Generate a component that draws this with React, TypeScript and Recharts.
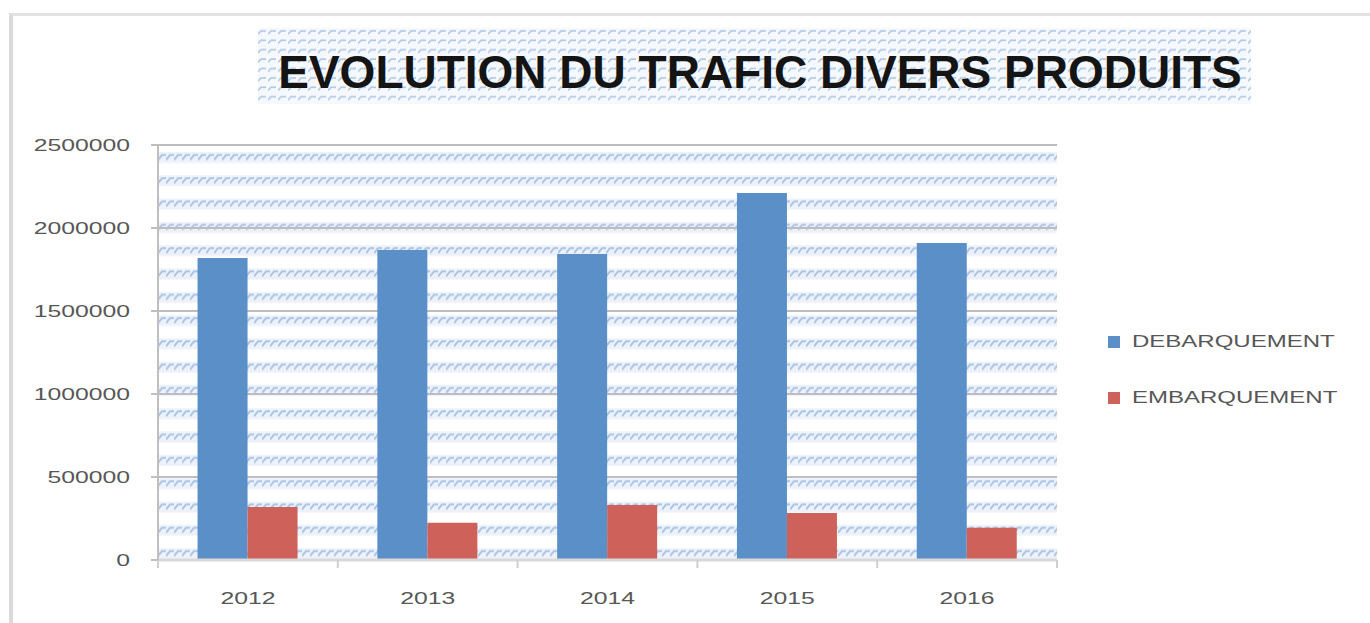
import React from 'react';
import { Bar, BarChart, CartesianGrid, Legend, XAxis, YAxis } from 'recharts';

const YEARS = ['2012', '2013', '2014', '2015', '2016'];
const DEBARQUEMENT = [1820000, 1868000, 1843000, 2211000, 1910000];
const EMBARQUEMENT = [320000, 224000, 331000, 283000, 194000];
const Y_TICKS = [0, 500000, 1000000, 1500000, 2000000, 2500000];

const TITLE = 'EVOLUTION DU TRAFIC DIVERS PRODUITS';
const SERIES = [
  { key: 'deb', name: 'DEBARQUEMENT', color: '#5B8FC7' },
  { key: 'emb', name: 'EMBARQUEMENT', color: '#CE625A' },
];

const data = YEARS.map((year, i) => ({ year, deb: DEBARQUEMENT[i], emb: EMBARQUEMENT[i] }));

const FONT = '"Liberation Sans", Arial, sans-serif';
const STRETCH = 1.5;
const LABEL_GAP = 38;

function YTick({ x, y, payload }: any) {
  return (
    <text
      transform={`translate(${x},${y}) scale(${STRETCH},1)`}
      textAnchor="end"
      dominantBaseline="central"
      fontFamily={FONT}
      fontSize={16.5}
      fill="#575757"
    >
      {payload.value}
    </text>
  );
}

// year label, plus the small tick marks on the category boundaries
function XTick({ x, y, payload, index, visibleTicksCount }: any) {
  const half = payload.offset ?? 0;
  const axisY = y - LABEL_GAP;
  const last = index === visibleTicksCount - 1;
  return (
    <g>
      <line x1={x - half} x2={x - half} y1={axisY} y2={axisY + 8} stroke="#cfcfcf" strokeWidth={2} />
      {last && <line x1={x + half} x2={x + half} y1={axisY} y2={axisY + 8} stroke="#cfcfcf" strokeWidth={2} />}
      <text
        transform={`translate(${x},${y}) scale(${STRETCH},1)`}
        textAnchor="middle"
        dominantBaseline="central"
        fontFamily={FONT}
        fontSize={16.5}
        fill="#575757"
      >
        {payload.value}
      </text>
    </g>
  );
}

function LegendBox() {
  return (
    <div style={{ fontFamily: FONT, fontSize: 16, color: '#575757' }}>
      {SERIES.map((s) => (
        <div key={s.key} style={{ display: 'flex', alignItems: 'center', height: 56 }}>
          <span style={{ width: 12, height: 12, background: s.color, marginRight: 12, flexShrink: 0 }} />
          <span style={{ display: 'inline-block', transform: `scaleX(${STRETCH})`, transformOrigin: 'left center', whiteSpace: 'nowrap' }}>
            {s.name}
          </span>
        </div>
      ))}
    </div>
  );
}

export default function App() {
  return (
    <div style={{ position: 'absolute', left: 0, top: 0, width: 1370, height: 623, overflow: 'hidden', background: '#fff' }}>
      {/* outer frame */}
      <div
        style={{
          position: 'absolute',
          left: 9,
          top: 13,
          width: 1400,
          height: 700,
          borderLeft: '4px solid #dadada',
          borderTop: '3px solid #e2e2e2',
        }}
      />

      {/* title */}
      <svg width={1370} height={120} style={{ position: 'absolute', left: 0, top: 0 }}>
        <defs>
          <pattern id="titleHatch" patternUnits="userSpaceOnUse" x={258} y={28} width={10} height={9.4}>
            <rect x={0} y={0} width={10} height={9.4} fill="#f5f8fc" />
            <path d="M0 6 L3 3 L8 3" stroke="#b0c8e6" strokeWidth={1.6} fill="none" />
          </pattern>
        </defs>
        <rect x={258} y={28} width={993} height={76} fill="url(#titleHatch)" />
        <text x={760} y={88} textAnchor="middle" fontFamily={FONT} fontWeight="bold" fontSize={46} fill="#141414">
          {TITLE}
        </text>
      </svg>

      <div style={{ position: 'absolute', left: 0, top: 0 }}>
        <BarChart
          width={1370}
          height={623}
          data={data}
          margin={{ top: 145, right: 313, left: 0, bottom: 0 }}
          barCategoryGap="22%"
          barGap={0}
        >
          <defs>
            <pattern id="plotHatch" patternUnits="userSpaceOnUse" x={158} y={145} width={8} height={23.3}>
              <rect x={0} y={0} width={8} height={23.3} fill="#ffffff" />
              <rect x={0} y={7} width={8} height={11} fill="#edf2fa" />
              <path d="M0 15 L4 10 L8 10" stroke="#aac4e5" strokeWidth={2} fill="none" />
            </pattern>
          </defs>
          <CartesianGrid vertical={false} fill="url(#plotHatch)" stroke="#bdbdbd" strokeWidth={2} />
          <XAxis
            dataKey="year"
            height={63}
            axisLine={{ stroke: '#d9d9d9', strokeWidth: 3 }}
            tickLine={false}
            tickSize={0}
            tickMargin={LABEL_GAP}
            tick={<XTick />}
          />
          <YAxis
            width={158}
            domain={[0, 2500000]}
            ticks={Y_TICKS}
            interval={0}
            axisLine={{ stroke: '#bfbfbf', strokeWidth: 2 }}
            tickLine={{ stroke: '#bfbfbf', strokeWidth: 2 }}
            tickSize={7}
            tickMargin={21}
            tick={<YTick />}
          />
          <Legend
            layout="horizontal"
            align="center"
            verticalAlign="middle"
            content={<LegendBox />}
            wrapperStyle={{ left: 1108, top: 314, width: 260 }}
          />
          {SERIES.map((s) => (
            <Bar key={s.key} dataKey={s.key} name={s.name} fill={s.color} isAnimationActive={false} />
          ))}
        </BarChart>
      </div>
    </div>
  );
}
